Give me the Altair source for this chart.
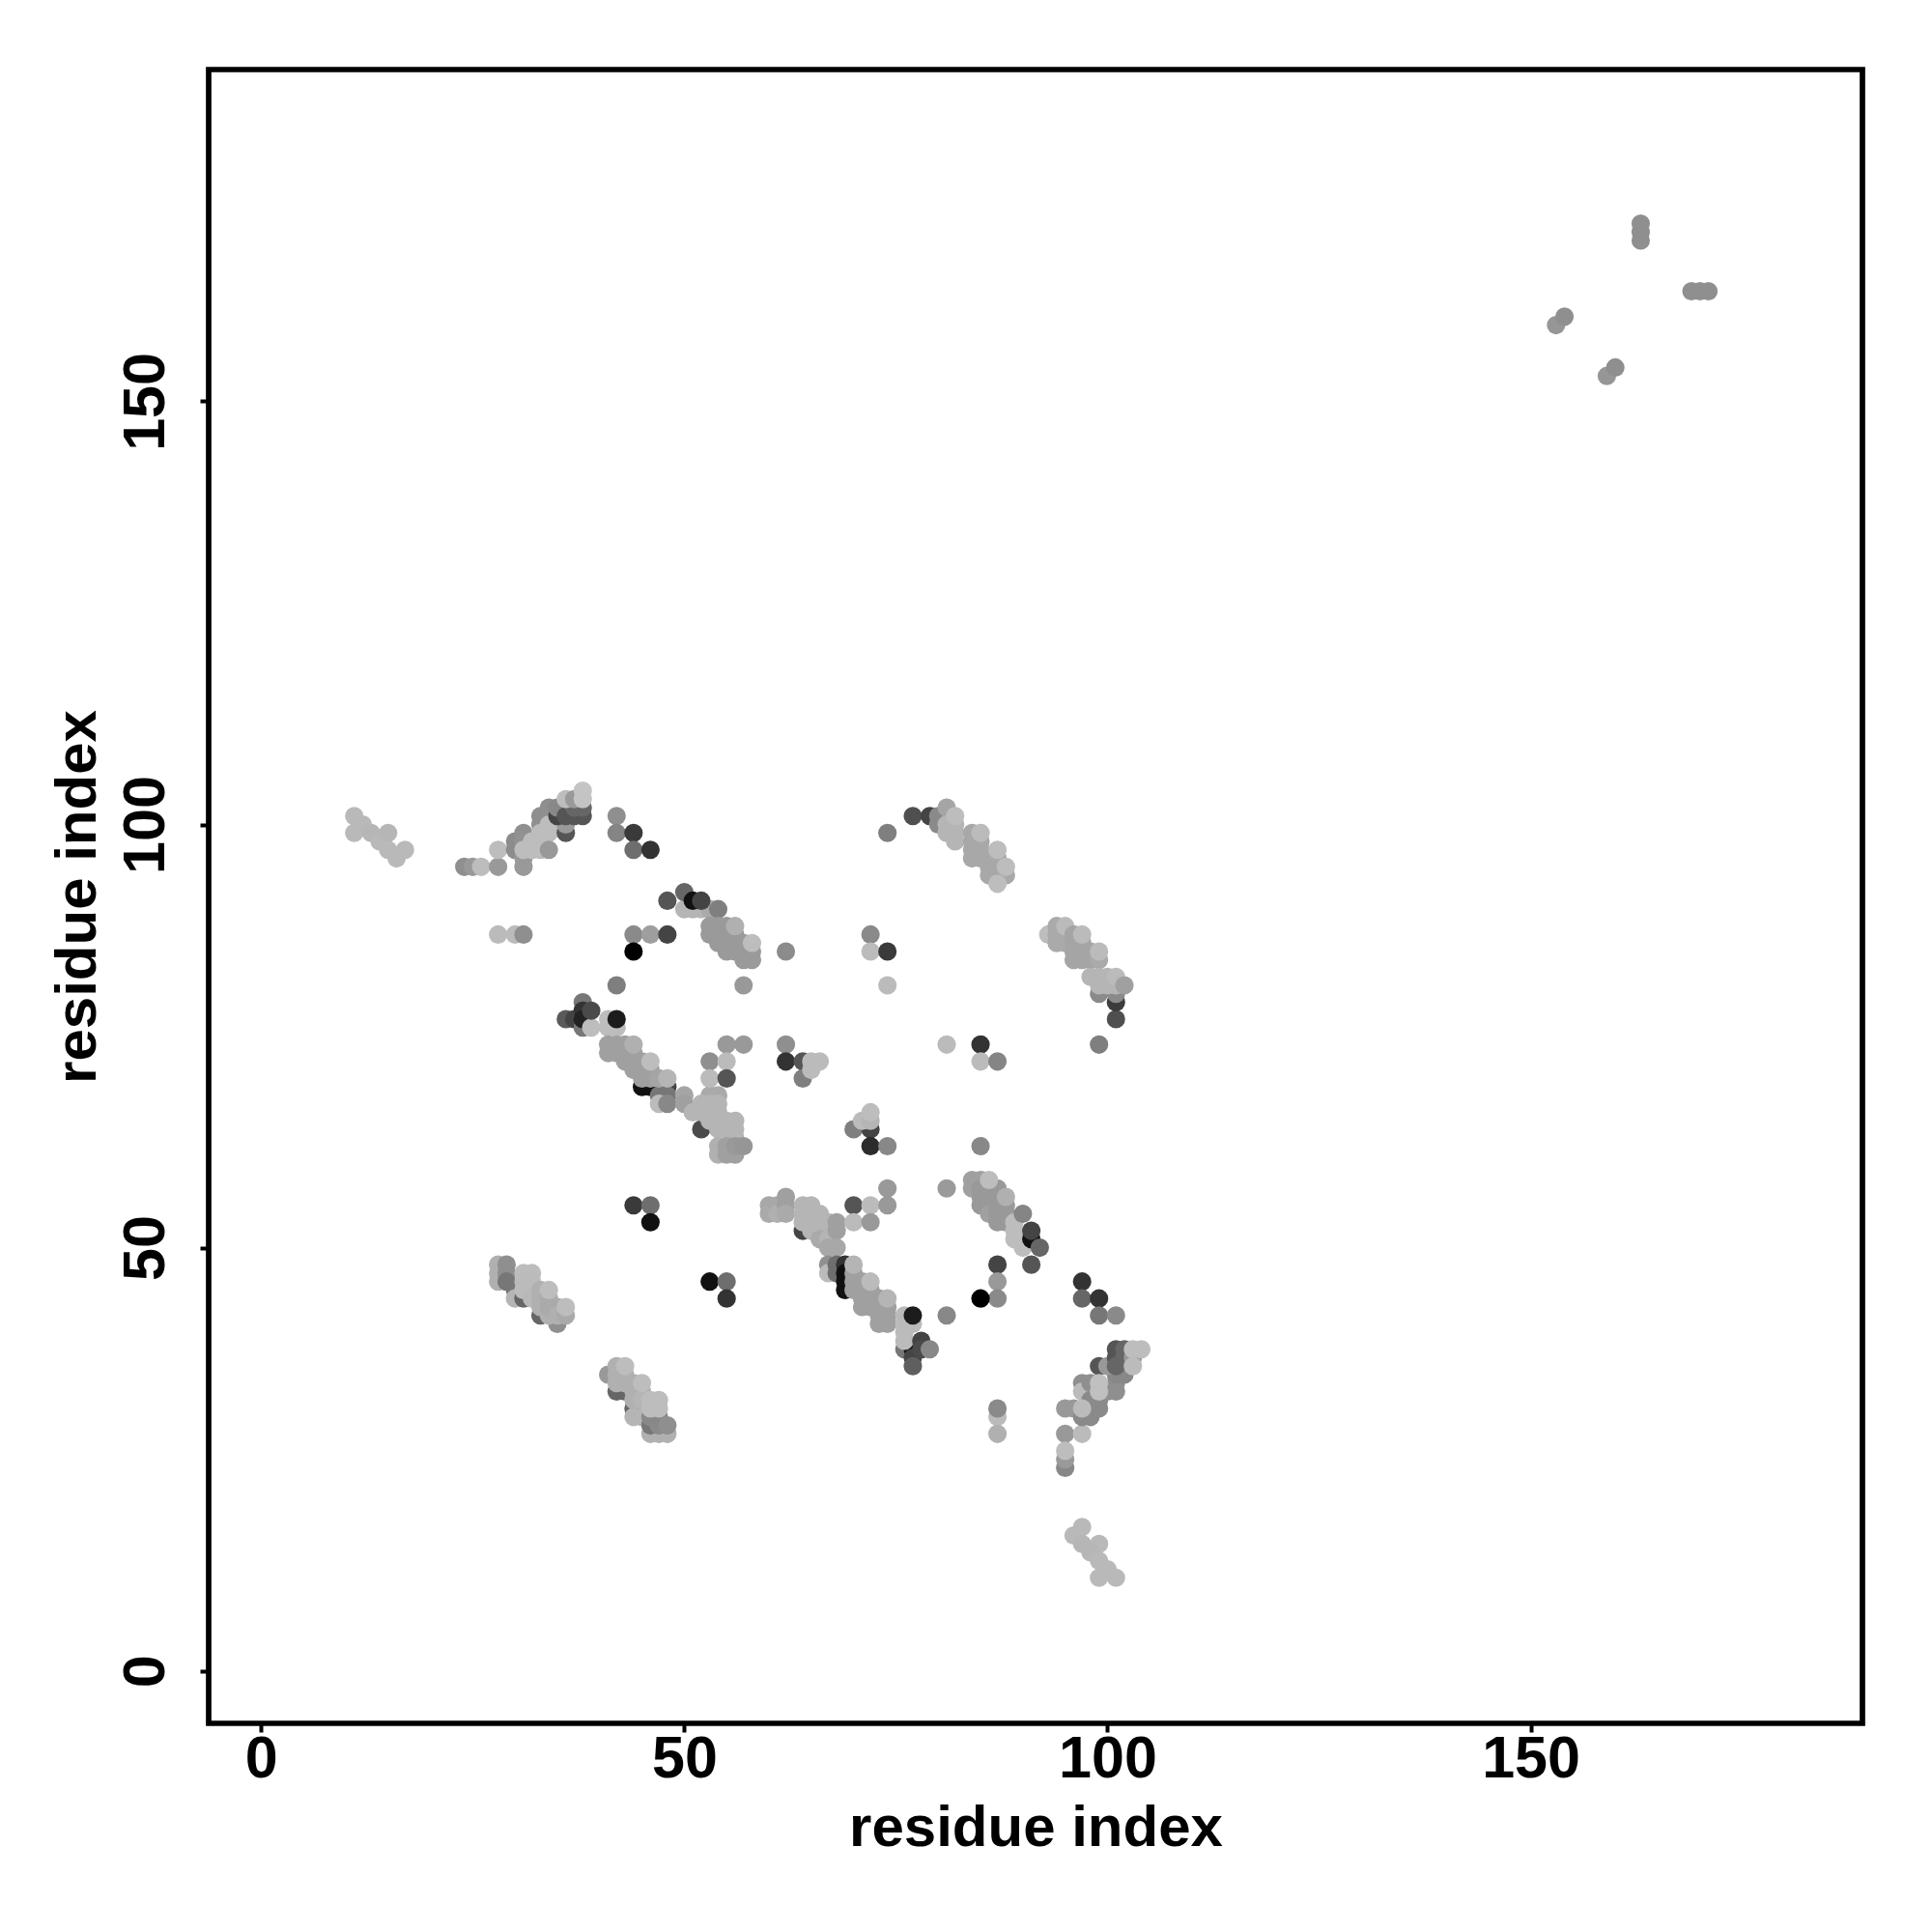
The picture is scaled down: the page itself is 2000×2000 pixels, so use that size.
import altair as alt
import pandas as pd

# (residue i, residue j, grey) in drawing order
c_a = [(11,101,"#b9b9b9"),(11,99,"#b9b9b9"),(12,100,"#b9b9b9"),(13,99,"#b6b6b6"),(14,98,"#b9b9b9"),(15,99,"#b6b6b6"),(15,97,"#b9b9b9"),(16,96,"#b9b9b9"),(17,97,"#b9b9b9"),
       (24,95,"#8f8f8f"),(25,95,"#999999"),(26,95,"#bdbdbd"),(28,95,"#999999"),(28,97,"#bdbdbd")]
c_b = [(30,98,"#8c8c8c"),(30,97,"#8c8c8c"),(31,99,"#909090"),(31,98,"#929292"),(31,96,"#999999"),(31,95,"#999999"),(31,97,"#bdbdbd"),
       (32,98,"#bdbdbd"),(32,97,"#bdbdbd"),(33,101,"#8f8f8f"),(33,100,"#8f8f8f"),(34,102,"#8f8f8f"),(34,101,"#8f8f8f"),(33,99,"#bdbdbd"),(33,98,"#bdbdbd"),(33,97,"#bdbdbd"),
       (34,100,"#bdbdbd"),(34,99,"#bdbdbd"),(34,97,"#999999"),(36,99,"#555555"),(36,100,"#999999"),(35,101,"#444444"),(35,102,"#888888"),
       (36,101,"#555555"),(37,101,"#555555"),(38,101,"#555555"),(37,102,"#666666"),(38,102,"#666666"),(36,103,"#bdbdbd"),(37,103,"#999999"),(38,103,"#c4c4c4"),(38,104,"#c4c4c4")]
c_c = [(42,101,"#8f8f8f"),(42,99,"#858585"),(44,99,"#3a3a3a"),(44,97,"#6e6e6e"),(46,97,"#333333"),
       (28,87,"#bbbbbb"),(30,87,"#bbbbbb"),(31,87,"#8f8f8f"),(44,87,"#8a8a8a"),(46,87,"#9e9e9e"),(48,87,"#444444"),(44,85,"#000000"),(62,85,"#8c8c8c"),(42,81,"#7f7f7f"),(57,81,"#999999")]
c_d = [(50,90,"#b5b5b5"),(51,90,"#b5b5b5"),(52,90,"#b5b5b5"),(53,90,"#aaaaaa"),(48,91,"#555555"),(50,92,"#666666"),(51,91,"#111111"),(52,91,"#444444"),(54,90,"#7f7f7f"),
       (53,88,"#9a9a9a"),(53,87,"#9a9a9a"),(54,88,"#9a9a9a"),(54,87,"#9a9a9a"),(55,88,"#9a9a9a"),(54,86,"#9a9a9a"),(55,87,"#9a9a9a"),(55,86,"#9a9a9a"),(55,85,"#9a9a9a"),(56,87,"#9a9a9a"),(56,86,"#9a9a9a"),(56,85,"#9a9a9a"),(57,86,"#9a9a9a"),(57,85,"#9a9a9a"),(57,84,"#9a9a9a"),(58,85,"#9a9a9a"),(58,84,"#9a9a9a"),(56,88,"#b0b0b0"),(58,86,"#bdbdbd")]
c_e = [(36,77,"#5a5a5a"),(37,77,"#444444"),(38,79,"#777777"),(38,76,"#777777"),(38,78,"#333333"),(38,77,"#222222"),(39,76,"#bdbdbd"),(39,78,"#4a4a4a"),(41,76,"#bdbdbd"),(41,77,"#bdbdbd"),(42,76,"#bdbdbd"),(42,77,"#1c1c1c"),
       (41,74,"#a0a0a0"),(41,73,"#a0a0a0"),(42,74,"#a0a0a0"),(42,73,"#a0a0a0"),(43,74,"#a0a0a0"),(43,73,"#a0a0a0"),(43,72,"#a0a0a0"),(44,73,"#a0a0a0"),(44,72,"#a0a0a0"),(44,71,"#a0a0a0"),(45,72,"#a0a0a0"),(44,74,"#b0b0b0"),
       (45,69,"#111111"),(46,69,"#111111"),(47,69,"#111111"),(48,69,"#444444"),(47,68,"#777777"),(48,68,"#777777"),(47,67,"#bbbbbb"),(48,67,"#888888"),
       (45,71,"#a0a0a0"),(45,70,"#a0a0a0"),(46,71,"#a0a0a0"),(46,70,"#a0a0a0"),(47,70,"#a5a5a5"),(46,72,"#bdbdbd"),(48,70,"#b5b5b5")]
c_f = [(52,64,"#4a4a4a"),(50,68,"#a5a5a5"),(50,67,"#a0a0a0"),(53,68,"#aaaaaa"),(54,68,"#aaaaaa"),(51,66,"#b5b5b5"),(52,67,"#b5b5b5"),(52,66,"#b5b5b5"),(53,67,"#b5b5b5"),(53,66,"#b5b5b5"),(53,65,"#b5b5b5"),(54,67,"#b5b5b5"),(54,66,"#b5b5b5"),(54,65,"#b5b5b5"),(54,64,"#b5b5b5"),(55,65,"#b5b5b5"),(55,64,"#b5b5b5"),(56,65,"#b5b5b5"),(56,64,"#b5b5b5"),(56,63,"#b5b5b5"),
       (54,62,"#b0b0b0"),(54,61,"#b0b0b0"),(55,62,"#a0a0a0"),(55,61,"#a0a0a0"),(56,61,"#a0a0a0"),(56,62,"#999999"),(57,62,"#969696")]
c_g = [(55,74,"#999999"),(57,74,"#999999"),(53,72,"#8f8f8f"),(55,72,"#bbbbbb"),(53,70,"#bbbbbb"),(55,70,"#555555"),(62,74,"#8f8f8f"),(62,72,"#333333"),(64,72,"#555555"),(64,70,"#7f7f7f"),(65,72,"#bbbbbb"),(66,72,"#bbbbbb"),(65,71,"#bbbbbb"),
       (44,55,"#3a3a3a"),(46,55,"#6e6e6e"),(46,53,"#111111"),(53,46,"#111111"),(55,46,"#6e6e6e"),(55,44,"#333333")]
c_h = [(74,99,"#7f7f7f"),(77,101,"#4f4f4f"),(79,101,"#444444"),(80,101,"#8a8a8a"),(80,100,"#8a8a8a"),(81,102,"#a5a5a5"),(81,100,"#b5b5b5"),(81,99,"#b5b5b5"),(82,100,"#b5b5b5"),(82,99,"#b5b5b5"),(82,98,"#b5b5b5"),(82,101,"#bdbdbd"),
       (84,99,"#a8a8a8"),(84,98,"#a8a8a8"),(84,97,"#a8a8a8"),(84,96,"#a8a8a8"),(85,98,"#a8a8a8"),(85,97,"#a8a8a8"),(85,96,"#a8a8a8"),(86,96,"#a8a8a8"),(86,95,"#a8a8a8"),(86,94,"#a8a8a8"),(87,96,"#a8a8a8"),(87,95,"#a8a8a8"),(87,94,"#a8a8a8"),(88,94,"#a8a8a8"),(85,99,"#bbbbbb"),(87,97,"#bdbdbd"),(87,93,"#bdbdbd"),(88,95,"#bdbdbd")]
c_i = [(93,87,"#bdbdbd"),(94,88,"#aaaaaa"),(94,87,"#aaaaaa"),(94,86,"#aaaaaa"),(95,87,"#aaaaaa"),(95,86,"#aaaaaa"),(95,88,"#bbbbbb"),(96,87,"#a5a5a5"),(96,86,"#a5a5a5"),(96,85,"#a5a5a5"),(96,84,"#a5a5a5"),(97,86,"#a5a5a5"),(97,85,"#a5a5a5"),(97,84,"#a5a5a5"),(98,85,"#a5a5a5"),(98,84,"#a5a5a5"),(99,84,"#aaaaaa"),(97,87,"#bbbbbb"),(99,85,"#bbbbbb"),
       (99,74,"#7f7f7f"),(101,77,"#4f4f4f"),(101,79,"#3c3c3c"),(99,80,"#8a8a8a"),(101,80,"#8a8a8a"),(98,82,"#b5b5b5"),(99,82,"#b5b5b5"),(100,82,"#b5b5b5"),(99,81,"#b5b5b5"),(100,81,"#b5b5b5"),(101,81,"#b5b5b5"),(101,82,"#bbbbbb"),(102,81,"#a0a0a0")]
c_j = [(72,87,"#8a8a8a"),(72,85,"#bbbbbb"),(74,85,"#3a3a3a"),(74,81,"#bbbbbb"),(81,74,"#bbbbbb"),(85,74,"#333333"),(85,72,"#bbbbbb"),(87,72,"#858585"),
       (70,64,"#7f7f7f"),(72,64,"#444444"),(71,65,"#bbbbbb"),(72,65,"#b5b5b5"),(72,66,"#bdbdbd"),(72,62,"#2c2c2c"),(74,62,"#888888"),(85,62,"#888888")]
c_k = [(60,55,"#a8a8a8"),(60,54,"#aaaaaa"),(61,55,"#a8a8a8"),(61,54,"#b0b0b0"),(62,56,"#a0a0a0"),(62,55,"#a0a0a0"),(62,54,"#aaaaaa"),(64,52,"#444444"),
       (64,55,"#b5b5b5"),(65,55,"#b5b5b5"),(64,54,"#b5b5b5"),(65,54,"#b5b5b5"),(64,53,"#b5b5b5"),(65,53,"#b5b5b5"),(66,54,"#b5b5b5"),(66,53,"#b5b5b5"),(66,52,"#b5b5b5"),(65,52,"#b5b5b5"),(67,53,"#b5b5b5"),(67,52,"#b5b5b5"),(66,51,"#aaaaaa"),(67,51,"#b5b5b5"),(67,50,"#a8a8a8"),
       (68,53,"#a0a0a0"),(68,52,"#a0a0a0"),(68,50,"#a8a8a8"),(70,55,"#555555"),(72,55,"#bbbbbb"),(74,55,"#999999"),(74,57,"#999999"),(70,53,"#bbbbbb"),(72,53,"#999999"),(81,57,"#9a9a9a")]
c_l = [(84,58,"#a0a0a0"),(84,57,"#a0a0a0"),(85,58,"#a0a0a0"),(85,57,"#999999"),(85,56,"#999999"),(85,55,"#999999"),(86,57,"#999999"),(86,56,"#999999"),(86,55,"#999999"),(86,54,"#a0a0a0"),(87,57,"#999999"),(87,56,"#999999"),(87,55,"#999999"),(87,54,"#999999"),(87,53,"#999999"),(88,55,"#999999"),(88,54,"#999999"),(88,53,"#999999"),(86,58,"#bdbdbd"),(88,56,"#b0b0b0"),
       (89,53,"#bdbdbd"),(89,52,"#bdbdbd"),(89,51,"#bdbdbd"),(90,51,"#bdbdbd"),(90,50,"#bdbdbd"),(90,54,"#858585"),(91,51,"#111111"),(91,52,"#444444"),(92,50,"#666666"),(91,48,"#555555"),(87,48,"#444444"),(87,46,"#999999"),(87,44,"#8a8a8a"),(85,44,"#000000"),(81,42,"#888888"),
       (97,46,"#333333"),(97,44,"#666666"),(99,44,"#333333"),(99,42,"#777777"),(101,42,"#8a8a8a")]
c_m = [(67,48,"#909090"),(67,47,"#bbbbbb"),(68,48,"#6e6e6e"),(68,47,"#6e6e6e"),(69,48,"#333333"),(69,47,"#111111"),(69,46,"#111111"),(69,45,"#111111"),
       (70,47,"#a0a0a0"),(70,46,"#a0a0a0"),(70,45,"#a0a0a0"),(71,46,"#a0a0a0"),(71,45,"#a0a0a0"),(71,44,"#a0a0a0"),(71,43,"#a0a0a0"),(72,45,"#a0a0a0"),(72,44,"#a0a0a0"),(72,43,"#a0a0a0"),(73,44,"#a0a0a0"),(73,43,"#a0a0a0"),(73,42,"#a0a0a0"),(73,41,"#a0a0a0"),(74,43,"#a0a0a0"),(74,42,"#a0a0a0"),(74,41,"#a0a0a0"),(70,48,"#b5b5b5"),(72,46,"#bbbbbb"),(74,44,"#b5b5b5"),
       (76,38,"#777777"),(77,38,"#111111"),(77,37,"#444444"),(77,36,"#5f5f5f"),(76,42,"#bbbbbb"),(76,41,"#bbbbbb"),(77,41,"#bbbbbb"),(77,42,"#1c1c1c"),(76,40,"#bbbbbb"),(76,39,"#bbbbbb"),(78,39,"#444444"),(78,38,"#4a4a4a"),(79,38,"#888888")]
c_n = [(87,30,"#bbbbbb"),(87,31,"#8a8a8a"),(87,28,"#b0b0b0"),(95,31,"#999999"),(96,31,"#999999"),(95,28,"#999999"),(97,28,"#bbbbbb"),(95,24,"#888888"),(95,25,"#999999"),(95,26,"#bdbdbd"),
       (97,34,"#8f8f8f"),(97,33,"#bbbbbb"),(97,30,"#8a8a8a"),(98,32,"#8a8a8a"),(98,31,"#8a8a8a"),(98,30,"#8a8a8a"),(99,32,"#8a8a8a"),(99,31,"#8a8a8a"),(97,31,"#bbbbbb"),(98,34,"#8f8f8f"),(99,36,"#555555"),(100,33,"#8f8f8f"),(101,34,"#8f8f8f"),(101,33,"#8f8f8f"),(101,35,"#888888"),(102,35,"#888888"),(100,36,"#999999"),(99,34,"#c0c0c0"),(99,33,"#c0c0c0"),
       (101,38,"#555555"),(101,37,"#555555"),(101,36,"#666666"),(102,38,"#666666"),(102,37,"#666666"),(103,37,"#999999"),(103,36,"#bbbbbb"),(103,38,"#bdbdbd"),(104,38,"#bdbdbd"),
       (97,17,"#b9b9b9"),(96,16,"#b9b9b9"),(97,15,"#b6b6b6"),(99,15,"#b9b9b9"),(98,14,"#b6b6b6"),(99,13,"#b9b9b9"),(100,12,"#b9b9b9"),(99,11,"#b9b9b9"),(101,11,"#b9b9b9")]
c_o = [(28,48,"#b0b0b0"),(28,47,"#b0b0b0"),(28,46,"#b0b0b0"),(29,48,"#8f8f8f"),(29,47,"#8f8f8f"),(29,46,"#777777"),(30,45,"#777777"),(30,44,"#b5b5b5"),(31,44,"#666666"),(31,47,"#bdbdbd"),(32,47,"#bdbdbd"),(31,46,"#bbbbbb"),(31,45,"#bbbbbb"),(32,46,"#bbbbbb"),(32,45,"#bbbbbb"),(32,44,"#b8b8b8"),
       (33,42,"#666666"),(33,45,"#b0b0b0"),(33,44,"#b0b0b0"),(33,43,"#b0b0b0"),(35,41,"#8f8f8f"),(34,42,"#b0b0b0"),(34,43,"#aaaaaa"),(34,44,"#aaaaaa"),(35,43,"#aaaaaa"),(35,42,"#b0b0b0"),(36,42,"#aaaaaa"),(34,45,"#bdbdbd"),(36,43,"#bdbdbd")]
c_p = [(41,35,"#999999"),(42,33,"#666666"),(43,33,"#666666"),(44,31,"#666666"),(45,31,"#666666"),(42,36,"#b0b0b0"),(42,35,"#b0b0b0"),(42,34,"#b0b0b0"),(43,35,"#b0b0b0"),(43,34,"#b0b0b0"),(44,34,"#b0b0b0"),(44,33,"#b0b0b0"),(44,32,"#b0b0b0"),(45,33,"#b0b0b0"),(45,32,"#b5b5b5"),(43,36,"#bdbdbd"),(45,34,"#bdbdbd"),
       (44,30,"#b5b5b5"),(45,30,"#b5b5b5"),(46,28,"#b0b0b0"),(47,28,"#b0b0b0"),(48,28,"#b0b0b0"),(46,29,"#777777"),(46,30,"#888888"),(47,29,"#8a8a8a"),(47,30,"#888888"),(48,29,"#8f8f8f"),(46,31,"#bdbdbd"),(47,31,"#bdbdbd"),(46,32,"#bdbdbd"),(47,32,"#bdbdbd")]
c_q = [(153,159,"#969696"),(154,160,"#8f8f8f"),(159,153,"#969696"),(160,154,"#8f8f8f"),(163,171,"#8f8f8f"),(163,170,"#8f8f8f"),(163,169,"#8f8f8f"),(169,163,"#8f8f8f"),(170,163,"#8f8f8f"),(171,163,"#8f8f8f")]

tick_values = [0, 50, 100, 150]
axis_title = "residue index"

rows = c_a + c_b + c_c + c_d + c_e + c_f + c_g + c_h + c_i + c_j + c_k + c_l + c_m + c_n + c_o + c_p + c_q
df = pd.DataFrame(rows, columns=["i", "j", "grey"])
df["n"] = range(len(df))

FONT = "Liberation Sans"
common = dict(values=tick_values, grid=False, domain=False, ticks=True, tickSize=9, tickWidth=4,
              tickColor="black", labelColor="black", labelFont=FONT, labelFontSize=61, labelFontWeight="bold",
              title=axis_title, titleFont=FONT, titleFontSize=60, titleFontWeight="bold", titleColor="black",
              labelBaseline="alphabetic", labelOverlap=False, labelFlush=False, titleBaseline="alphabetic")

points = (
    alt.Chart(df)
    .mark_circle(size=365, opacity=1)
    .encode(
        x=alt.X("i:Q", scale=alt.Scale(domain=[-6.2, 189.2], nice=False, zero=False),
                axis=alt.Axis(orient="bottom", labelPadding=46, labelAlign="center", titleX=856, titleY=126, **common)),
        y=alt.Y("j:Q", scale=alt.Scale(domain=[-6.2, 189.2], nice=False, zero=False),
                axis=alt.Axis(orient="left", labelPadding=38, labelAngle=270, labelAlign="center",
                              titleAngle=270, titleX=-118, titleY=856, titleAlign="center", **common)),
        color=alt.Color("grey:N", scale=None),
        order=alt.Order("n:Q"),
    )
)

frame = alt.Chart(pd.DataFrame({"k": [0]})).mark_rect(fillOpacity=0, stroke="black", strokeWidth=5.7).encode(
    x=alt.value(0), x2=alt.value(1712), y=alt.value(0), y2=alt.value(1712)
)

chart = (
    alt.layer(points, frame)
    .properties(width=1712, height=1712, padding={"left": 208, "top": 64, "right": 56, "bottom": 200},
                autosize=alt.AutoSizeParams(type="none"), background="white")
    .configure_view(strokeWidth=0)
)

chart.save("out.html", embed_options={"renderer": "svg", "actions": False})
